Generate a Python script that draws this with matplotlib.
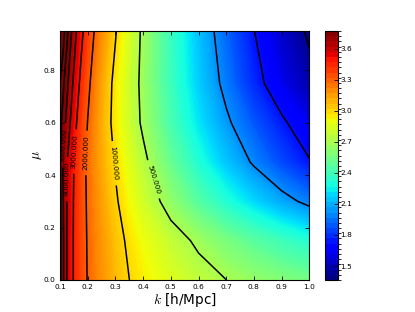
import numpy as np
import matplotlib
matplotlib.use("Agg")
import matplotlib.pyplot as plt
from matplotlib.colors import BoundaryNorm
from matplotlib.cm import ScalarMappable
from matplotlib.ticker import FormatStrFormatter

# ---- data: log10 P(k, mu) on a grid ----
k_values = [0.10, 0.11, 0.125, 0.15, 0.175, 0.20, 0.25, 0.30, 0.35, 0.40,
            0.50, 0.60, 0.70, 0.80, 0.90, 1.00]
mu_values = [0.0, 0.15, 0.30, 0.45, 0.60, 0.75, 0.95]

logP_mu000 = [3.80, 3.725, 3.598, 3.466, 3.378, 3.293, 3.177, 3.082, 3.001, 2.943,
              2.846, 2.767, 2.700, 2.639, 2.587, 2.540]
logP_mu015 = [3.80, 3.725, 3.597, 3.466, 3.376, 3.289, 3.162, 3.058, 2.971, 2.897,
              2.775, 2.668, 2.560, 2.466, 2.384, 2.310]
logP_mu030 = [3.80, 3.714, 3.602, 3.469, 3.374, 3.281, 3.138, 3.021, 2.910, 2.811,
              2.629, 2.452, 2.303, 2.174, 2.060, 1.957]
logP_mu045 = [3.79, 3.699, 3.608, 3.477, 3.372, 3.272, 3.116, 2.986, 2.855, 2.742,
              2.506, 2.302, 2.130, 1.979, 1.837, 1.710]
logP_mu060 = [3.804, 3.752, 3.670, 3.525, 3.404, 3.297, 3.108, 2.948, 2.801, 2.670,
              2.414, 2.205, 2.029, 1.869, 1.726, 1.596]
logP_mu075 = [3.845, 3.800, 3.722, 3.580, 3.450, 3.337, 3.129, 2.955, 2.798, 2.655,
              2.378, 2.152, 1.953, 1.759, 1.599, 1.460]
logP_mu095 = [3.92, 3.884, 3.800, 3.651, 3.517, 3.400, 3.187, 3.013, 2.830, 2.665,
              2.366, 2.122, 1.904, 1.703, 1.527, 1.369]

labelled_levels = [500, 1000, 2000, 3000, 4000, 5000]
plain_levels = [25, 50, 100, 6000, 7000]
cbar_ticks = [1.5, 1.8, 2.1, 2.4, 2.7, 3.0, 3.3, 3.6]
x_ticks = [0.1, 0.2, 0.3, 0.4, 0.5, 0.6, 0.7, 0.8, 0.9, 1.0]
y_ticks = [0.0, 0.2, 0.4, 0.6, 0.8]
color_min, color_max = 1.365, 3.77

# ---- style ----
plt.rcParams['font.family'] = ['DejaVu Sans']
plt.rcParams['mathtext.fontset'] = 'cm'

fig = plt.figure(figsize=(4.15, 3.12), dpi=100)
ax = fig.add_axes([0.1446, 0.1026, 0.6007, 0.798])
cax = fig.add_axes([0.7831, 0.1026, 0.0306, 0.798])

K, MU = np.meshgrid(k_values, mu_values)
Z = np.array([logP_mu000, logP_mu015, logP_mu030, logP_mu045,
              logP_mu060, logP_mu075, logP_mu095])

# smooth-looking colour field
image_levels = np.linspace(color_min, color_max, 241)
ax.contourf(K, MU, Z, levels=image_levels, cmap='jet', extend='max',
            antialiased=False)

ax.contour(K, MU, Z, levels=np.log10(plain_levels), colors='k', linewidths=1.1)
lab_cs = ax.contour(K, MU, Z, levels=np.log10(labelled_levels),
                    colors='k', linewidths=1.1)
label_spots = [(0.108, 0.515), (0.125, 0.385), (0.152, 0.49),
               (0.193, 0.485), (0.292, 0.445), (0.44, 0.385)]
ax.clabel(lab_cs, fmt=lambda v: f"{10 ** v:.3f}", fontsize=5.2, inline=True,
          manual=label_spots)

ax.set_xlim(0.1, 1.0)
ax.set_ylim(0.0, 0.95)
ax.set_xticks(x_ticks)
ax.set_yticks(y_ticks)
ax.xaxis.set_major_formatter(FormatStrFormatter('%.1f'))
ax.yaxis.set_major_formatter(FormatStrFormatter('%.1f'))
ax.tick_params(direction='in', top=True, right=True, length=3, width=0.6,
               labelsize=5.3, pad=3)
ax.set_xlabel(r"$k$ [h/Mpc]", fontsize=9.8, labelpad=0.5)
ax.set_ylabel(r"$\mu$", fontsize=9.8, labelpad=0)
for s in ax.spines.values():
    s.set_linewidth(0.8)

# banded colour bar (as in the reference)
bar_levels = np.linspace(color_min, color_max, 49)
sm = ScalarMappable(norm=BoundaryNorm(bar_levels, 256), cmap='jet')
cb = fig.colorbar(sm, cax=cax, ticks=cbar_ticks)
cb.ax.yaxis.set_major_formatter(FormatStrFormatter('%.1f'))
cb.ax.tick_params(direction='in', length=3, width=0.6, labelsize=5.3, pad=2)
cb.outline.set_linewidth(0.8)

fig.savefig("out.png", dpi=100)
